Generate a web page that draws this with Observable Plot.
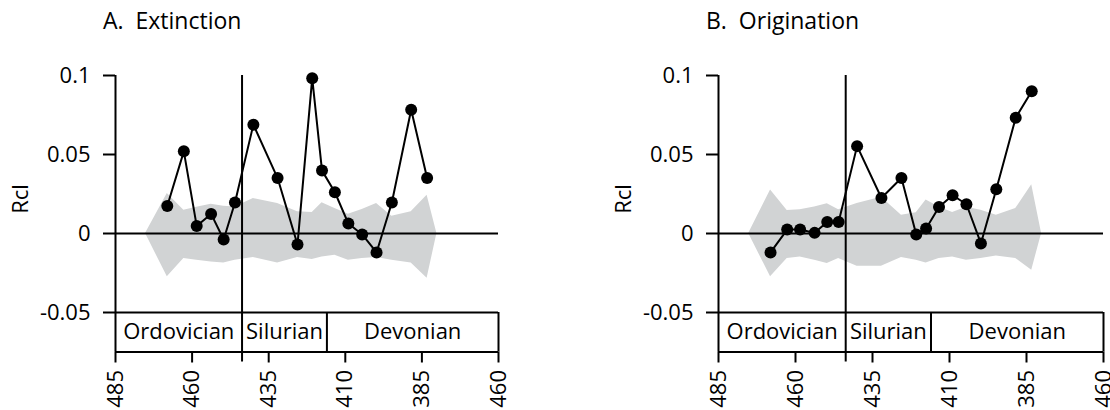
<!DOCTYPE html>
<html><head><meta charset="utf-8">
<script src="https://cdn.jsdelivr.net/npm/d3@7"></script>
<script src="https://cdn.jsdelivr.net/npm/@observablehq/plot@0.6"></script>
<style>
body{margin:0;background:#fff;}
#fig{position:relative;width:1110px;height:410px;overflow:hidden;font-family:"Open Sans",sans-serif;}
#fig svg{position:absolute;top:0;}
</style></head><body><div id="fig"></div>
<script>
// Interval midpoints (Ma)
const ages = [468.1, 462.7, 458.5, 453.8, 449.7, 446.0, 440.0, 432.1, 425.6, 420.8, 417.6, 413.4, 409.0, 404.5, 399.8, 394.8, 388.5, 383.3];
const extinction = [0.0174, 0.052, 0.0048, 0.0124, -0.0038, 0.0196, 0.0689, 0.0351, -0.007, 0.0983, 0.0398, 0.0261, 0.0063, -0.0006, -0.012, 0.0196, 0.0783, 0.0351];
const origination = [-0.012, 0.0025, 0.0025, 0.0004, 0.0073, 0.0073, 0.0553, 0.0225, 0.0351, -0.0006, 0.0032, 0.0168, 0.0242, 0.0185, -0.0063, 0.028, 0.0733, 0.0901];

// Null-model envelope (grey band)
const bandAges = [475.2, 468.1, 462.7, 458.5, 453.8, 449.7, 446.0, 440.0, 432.1, 425.6, 420.8, 417.6, 413.4, 409.0, 404.5, 399.8, 394.8, 388.5, 383.3, 380.1];
const extUpper = [0, 0.0253, 0.0147, 0.0166, 0.0185, 0.0172, 0.0168, 0.0221, 0.019, 0.0137, 0.0133, 0.0194, 0.0158, 0.0122, 0.0152, 0.019, 0.0109, 0.0137, 0.0242, 0];
const extLower = [0, -0.0274, -0.0158, -0.0169, -0.018, -0.0186, -0.0169, -0.0152, -0.0186, -0.0152, -0.0164, -0.0148, -0.0137, -0.0169, -0.0158, -0.0152, -0.0169, -0.0186, -0.0284, 0];
const origUpper = [0, 0.0276, 0.0145, 0.015, 0.0168, 0.0188, 0.015, 0.019, 0.023, 0.0116, 0.0131, 0.0212, 0.0168, 0.0133, 0.0166, 0.0147, 0.0116, 0.0158, 0.0308, 0];
const origLower = [0, -0.0274, -0.0158, -0.0148, -0.0169, -0.019, -0.0158, -0.0207, -0.0207, -0.0152, -0.0169, -0.0186, -0.0158, -0.0148, -0.0169, -0.0158, -0.0143, -0.0158, -0.0232, 0];

// Periods
const periodNames = ["Ordovician", "Silurian", "Devonian"];
const periodStart = [485, 443.7, 416];
const periodEnd = [443.7, 416, 360];

// Axis ticks
const xTicks = [485, 460, 435, 410, 385, 360];
const xTickLabels = ["485", "460", "435", "410", "385", "460"];
const yTicks = [0.1, 0.05, 0, -0.05];
const yTickLabels = ["0.1", "0.05", "0", "-0.05"];
const yLabel = "Rcl";
const titles = ["A.  Extinction", "B.  Origination"];

const xLab = new Map(xTicks.map((t, i) => [t, xTickLabels[i]]));
const yLab = new Map(yTicks.map((t, i) => [t, yTickLabels[i]]));

function panel(title, values, upper, lower, left, marginRight) {
  const pts = ages.map((a, i) => ({age: a, v: values[i]}));
  const band = bandAges.map((a, i) => ({age: a, hi: upper[i], lo: lower[i]}));
  const periods = periodNames.map((n, i) => ({name: n, s: periodStart[i], e: periodEnd[i], mid: (periodStart[i] + periodEnd[i]) / 2}));
  const svg = Plot.plot({
    width: 507, height: 410,
    marginLeft: 115, marginRight, marginTop: 75, marginBottom: 58.5,
    style: {fontFamily: "'Open Sans', sans-serif", fontSize: "22px", color: "black", background: "transparent", overflow: "visible"},
    x: {domain: [485, 360], axis: null},
    y: {domain: [-0.075, 0.1], axis: null},
    marks: [
      Plot.areaY(band, {x: "age", y1: "lo", y2: "hi", fill: "#d1d3d4", curve: "linear"}),
      Plot.ruleY([0], {x1: 485, x2: 360, stroke: "black", strokeWidth: 2}),
      Plot.ruleY([-0.05, -0.075], {x1: 485, x2: 360, stroke: "black", strokeWidth: 2}),
      Plot.ruleX([485], {y1: 0.1, y2: -0.075, stroke: "black", strokeWidth: 2}),
      Plot.ruleX([periodStart[1]], {y1: 0.1, y2: -0.075, insetBottom: -10, stroke: "black", strokeWidth: 2}),
      Plot.ruleX([periodStart[2], 360], {y1: -0.05, y2: -0.075, stroke: "black", strokeWidth: 2}),
      Plot.text(periods, {x: "mid", y: -0.0625, text: "name", fill: "black"}),
      Plot.axisY({ticks: yTicks, tickFormat: d => yLab.get(d), tickSize: 12, tickPadding: 13, strokeWidth: 2, stroke: "black", fill: "black"}),
      Plot.axisX({ticks: xTicks, tickFormat: d => xLab.get(d), tickSize: 11, tickPadding: 7, tickRotate: -90, strokeWidth: 2, stroke: "black", fill: "black"}),
      Plot.text([yLabel], {frameAnchor: "left", dx: -95, rotate: -90, fill: "black"}),
      Plot.line(pts, {x: "age", y: "v", stroke: "black", strokeWidth: 2}),
      Plot.dot(pts, {x: "age", y: "v", r: 6, fill: "black"})
    ]
  });
  d3.select(svg).append("text")
    .attr("x", 103).attr("y", 29)
    .attr("fill", "black")
    .attr("text-anchor", "start")
    .attr("font-size", 23)
    .style("white-space", "pre")
    .text(title);
  svg.style.left = left + "px";
  document.getElementById("fig").appendChild(svg);
}

panel(titles[0], extinction, extUpper, extLower, 0, 9);
panel(titles[1], origination, origUpper, origLower, 603, 7);
</script>
</body></html>
